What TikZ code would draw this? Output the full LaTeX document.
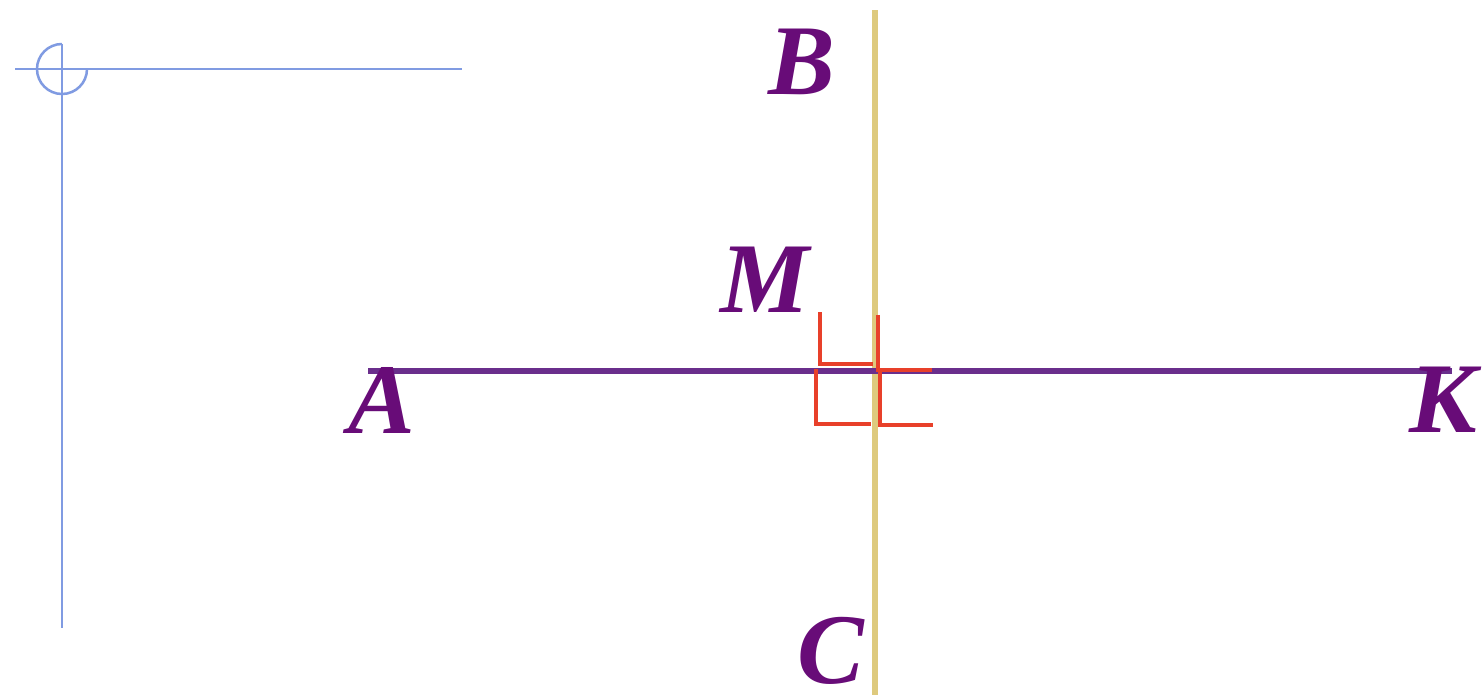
\documentclass[tikz,border=0pt]{standalone}
\usepackage{fontspec}
\newfontfamily\lblfont{Liberation Serif}
\definecolor{lblpurple}{RGB}{104,12,120}
\definecolor{linepurple}{RGB}{106,46,140}
\definecolor{lineyellow}{RGB}{222,202,126}
\definecolor{markred}{RGB}{232,64,42}
\definecolor{guideblue}{RGB}{128,155,226}
\tikzset{
  lbl/.style={inner sep=0pt, text=lblpurple, font=\lblfont\bfseries\itshape\fontsize{100}{100}\selectfont},
  purpleline/.style={draw=linepurple, line width=6pt},
  yellowline/.style={draw=lineyellow, line width=5.5pt},
  rightmark/.style={draw=markred, line width=3.5pt},
  guide/.style={draw=guideblue, line width=2.5pt}
}
\begin{document}
\begin{tikzpicture}[x=1pt,y=-1pt]
\useasboundingbox[fill=white] (0,0) rectangle (1482,699);
% guide lines (blue)
\coordinate (gh1) at (15,69);
\coordinate (gh2) at (462,69);
\coordinate (gv1) at (62,44);
\coordinate (gv2) at (62,628);
\draw[guide] (gh1) -- (gh2);
\draw[guide] (gv1) -- (gv2);
\draw[guide] (gv1) arc[start angle=270, end angle=0, radius=25];
% main lines
\coordinate (Bend) at (875,10);
\coordinate (Cend) at (875,695);
\coordinate (Aend) at (368,371);
\coordinate (Kend) at (1452,371);
\draw[yellowline] (Bend) -- (Cend);
\draw[purpleline] (Aend) -- (Kend);
% right-angle marks
\draw[rightmark] (820,312) -- (820,364) -- (873,364);
\draw[rightmark] (816,369) -- (816,424) -- (871,424);
\draw[rightmark] (878,315) -- (878,370) -- (932,370);
\draw[rightmark] (880,370) -- (880,425) -- (933,425);
% labels
\node[lbl] (B) at (802,62) {B};
\node[lbl] (M) at (765,280) {M};
\node[lbl] (A) at (382,400) {A};
\node[lbl] (K) at (1443,400) {К};
\node[lbl] (C) at (831,651) {C};
\end{tikzpicture}
\end{document}
